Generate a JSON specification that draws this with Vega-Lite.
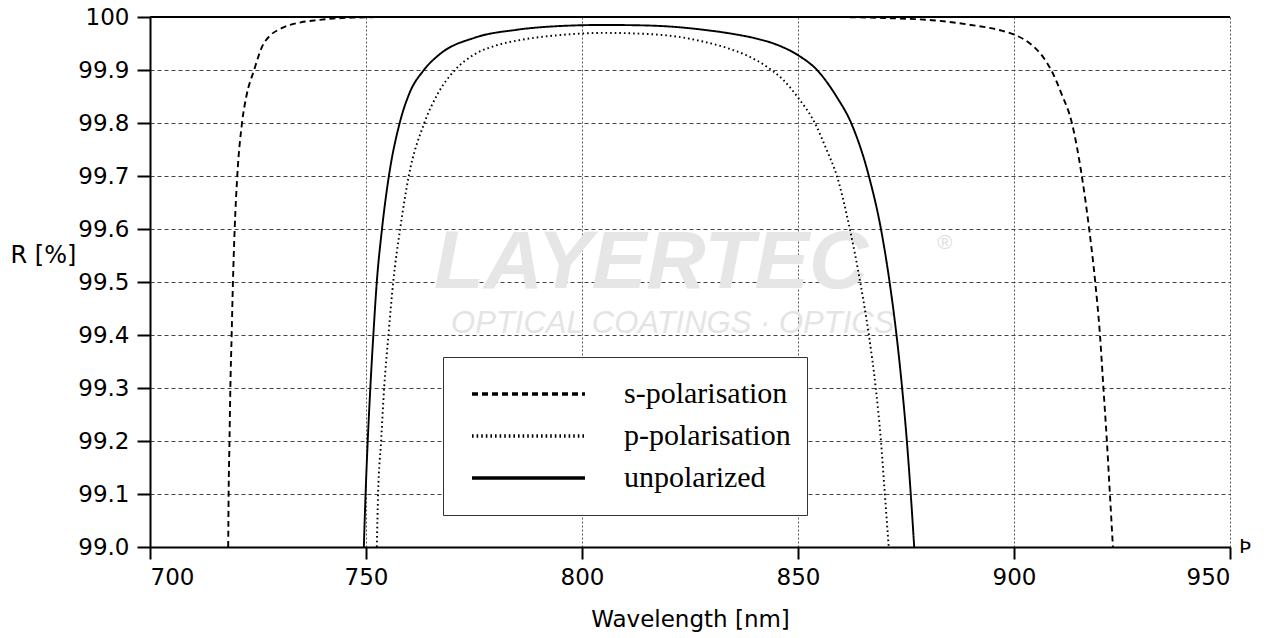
{
  "$schema": "https://vega.github.io/schema/vega-lite/v6.json",
  "width": 1080,
  "height": 530,
  "autosize": {"type": "none"},
  "padding": {"left": 150, "top": 17, "right": 39, "bottom": 91},
  "background": "white",
  "config": {"view": {"stroke": null}, "font": "DejaVu Sans"},
  "datasets": {
    "curves": [
      {"pol": "s-polarisation", "seg": "sL", "wl": 718.1, "R": 99.0},
      {"pol": "s-polarisation", "seg": "sL", "wl": 718.2, "R": 99.1},
      {"pol": "s-polarisation", "seg": "sL", "wl": 718.4, "R": 99.2},
      {"pol": "s-polarisation", "seg": "sL", "wl": 718.6, "R": 99.3},
      {"pol": "s-polarisation", "seg": "sL", "wl": 718.9, "R": 99.4},
      {"pol": "s-polarisation", "seg": "sL", "wl": 719.2, "R": 99.5},
      {"pol": "s-polarisation", "seg": "sL", "wl": 719.6, "R": 99.6},
      {"pol": "s-polarisation", "seg": "sL", "wl": 720.2, "R": 99.7},
      {"pol": "s-polarisation", "seg": "sL", "wl": 721.3, "R": 99.8},
      {"pol": "s-polarisation", "seg": "sL", "wl": 722.3, "R": 99.85},
      {"pol": "s-polarisation", "seg": "sL", "wl": 724.1, "R": 99.9},
      {"pol": "s-polarisation", "seg": "sL", "wl": 726.0, "R": 99.945},
      {"pol": "s-polarisation", "seg": "sL", "wl": 727.8, "R": 99.965},
      {"pol": "s-polarisation", "seg": "sL", "wl": 730.0, "R": 99.977},
      {"pol": "s-polarisation", "seg": "sL", "wl": 732.4, "R": 99.985},
      {"pol": "s-polarisation", "seg": "sL", "wl": 735.0, "R": 99.99},
      {"pol": "s-polarisation", "seg": "sL", "wl": 738.7, "R": 99.994},
      {"pol": "s-polarisation", "seg": "sL", "wl": 742.4, "R": 99.997},
      {"pol": "s-polarisation", "seg": "sL", "wl": 748.0, "R": 99.999},
      {"pol": "s-polarisation", "seg": "sL", "wl": 753.0, "R": 100.0},
      {"pol": "s-polarisation", "seg": "sR", "wl": 859.7, "R": 100.0},
      {"pol": "s-polarisation", "seg": "sR", "wl": 870.0, "R": 99.998},
      {"pol": "s-polarisation", "seg": "sR", "wl": 881.0, "R": 99.994},
      {"pol": "s-polarisation", "seg": "sR", "wl": 890.0, "R": 99.985},
      {"pol": "s-polarisation", "seg": "sR", "wl": 896.8, "R": 99.975},
      {"pol": "s-polarisation", "seg": "sR", "wl": 900.0, "R": 99.967},
      {"pol": "s-polarisation", "seg": "sR", "wl": 903.7, "R": 99.95},
      {"pol": "s-polarisation", "seg": "sR", "wl": 906.5, "R": 99.927},
      {"pol": "s-polarisation", "seg": "sR", "wl": 908.6, "R": 99.9},
      {"pol": "s-polarisation", "seg": "sR", "wl": 911.0, "R": 99.855},
      {"pol": "s-polarisation", "seg": "sR", "wl": 913.4, "R": 99.8},
      {"pol": "s-polarisation", "seg": "sR", "wl": 915.7, "R": 99.7},
      {"pol": "s-polarisation", "seg": "sR", "wl": 917.4, "R": 99.6},
      {"pol": "s-polarisation", "seg": "sR", "wl": 918.8, "R": 99.5},
      {"pol": "s-polarisation", "seg": "sR", "wl": 919.9, "R": 99.4},
      {"pol": "s-polarisation", "seg": "sR", "wl": 920.7, "R": 99.3},
      {"pol": "s-polarisation", "seg": "sR", "wl": 921.5, "R": 99.2},
      {"pol": "s-polarisation", "seg": "sR", "wl": 922.2, "R": 99.1},
      {"pol": "s-polarisation", "seg": "sR", "wl": 922.9, "R": 99.0},
      {"pol": "p-polarisation", "seg": "p", "wl": 752.5, "R": 99.0},
      {"pol": "p-polarisation", "seg": "p", "wl": 752.8, "R": 99.1},
      {"pol": "p-polarisation", "seg": "p", "wl": 753.5, "R": 99.2},
      {"pol": "p-polarisation", "seg": "p", "wl": 754.2, "R": 99.3},
      {"pol": "p-polarisation", "seg": "p", "wl": 755.2, "R": 99.4},
      {"pol": "p-polarisation", "seg": "p", "wl": 756.3, "R": 99.5},
      {"pol": "p-polarisation", "seg": "p", "wl": 757.9, "R": 99.6},
      {"pol": "p-polarisation", "seg": "p", "wl": 759.9, "R": 99.7},
      {"pol": "p-polarisation", "seg": "p", "wl": 763.5, "R": 99.8},
      {"pol": "p-polarisation", "seg": "p", "wl": 766.6, "R": 99.855},
      {"pol": "p-polarisation", "seg": "p", "wl": 770.6, "R": 99.9},
      {"pol": "p-polarisation", "seg": "p", "wl": 775.2, "R": 99.93},
      {"pol": "p-polarisation", "seg": "p", "wl": 780.0, "R": 99.946},
      {"pol": "p-polarisation", "seg": "p", "wl": 786.0, "R": 99.957},
      {"pol": "p-polarisation", "seg": "p", "wl": 795.0, "R": 99.966},
      {"pol": "p-polarisation", "seg": "p", "wl": 805.0, "R": 99.97},
      {"pol": "p-polarisation", "seg": "p", "wl": 815.0, "R": 99.968},
      {"pol": "p-polarisation", "seg": "p", "wl": 822.0, "R": 99.963},
      {"pol": "p-polarisation", "seg": "p", "wl": 827.3, "R": 99.955},
      {"pol": "p-polarisation", "seg": "p", "wl": 833.0, "R": 99.943},
      {"pol": "p-polarisation", "seg": "p", "wl": 838.0, "R": 99.928},
      {"pol": "p-polarisation", "seg": "p", "wl": 843.0, "R": 99.905},
      {"pol": "p-polarisation", "seg": "p", "wl": 846.5, "R": 99.882},
      {"pol": "p-polarisation", "seg": "p", "wl": 850.0, "R": 99.848},
      {"pol": "p-polarisation", "seg": "p", "wl": 853.9, "R": 99.8},
      {"pol": "p-polarisation", "seg": "p", "wl": 856.6, "R": 99.75},
      {"pol": "p-polarisation", "seg": "p", "wl": 859.0, "R": 99.7},
      {"pol": "p-polarisation", "seg": "p", "wl": 862.0, "R": 99.6},
      {"pol": "p-polarisation", "seg": "p", "wl": 864.4, "R": 99.5},
      {"pol": "p-polarisation", "seg": "p", "wl": 866.4, "R": 99.4},
      {"pol": "p-polarisation", "seg": "p", "wl": 868.0, "R": 99.3},
      {"pol": "p-polarisation", "seg": "p", "wl": 869.2, "R": 99.2},
      {"pol": "p-polarisation", "seg": "p", "wl": 870.1, "R": 99.1},
      {"pol": "p-polarisation", "seg": "p", "wl": 871.0, "R": 99.0},
      {"pol": "unpolarized", "seg": "u", "wl": 749.5, "R": 99.0},
      {"pol": "unpolarized", "seg": "u", "wl": 749.9, "R": 99.1},
      {"pol": "unpolarized", "seg": "u", "wl": 750.4, "R": 99.2},
      {"pol": "unpolarized", "seg": "u", "wl": 751.0, "R": 99.3},
      {"pol": "unpolarized", "seg": "u", "wl": 751.7, "R": 99.4},
      {"pol": "unpolarized", "seg": "u", "wl": 752.5, "R": 99.5},
      {"pol": "unpolarized", "seg": "u", "wl": 753.7, "R": 99.6},
      {"pol": "unpolarized", "seg": "u", "wl": 755.3, "R": 99.7},
      {"pol": "unpolarized", "seg": "u", "wl": 757.8, "R": 99.8},
      {"pol": "unpolarized", "seg": "u", "wl": 760.0, "R": 99.855},
      {"pol": "unpolarized", "seg": "u", "wl": 763.4, "R": 99.9},
      {"pol": "unpolarized", "seg": "u", "wl": 767.1, "R": 99.93},
      {"pol": "unpolarized", "seg": "u", "wl": 775.2, "R": 99.961},
      {"pol": "unpolarized", "seg": "u", "wl": 785.0, "R": 99.976},
      {"pol": "unpolarized", "seg": "u", "wl": 795.0, "R": 99.983},
      {"pol": "unpolarized", "seg": "u", "wl": 805.0, "R": 99.985},
      {"pol": "unpolarized", "seg": "u", "wl": 815.0, "R": 99.984},
      {"pol": "unpolarized", "seg": "u", "wl": 822.0, "R": 99.981},
      {"pol": "unpolarized", "seg": "u", "wl": 828.0, "R": 99.976},
      {"pol": "unpolarized", "seg": "u", "wl": 835.0, "R": 99.968},
      {"pol": "unpolarized", "seg": "u", "wl": 840.0, "R": 99.96},
      {"pol": "unpolarized", "seg": "u", "wl": 845.0, "R": 99.948},
      {"pol": "unpolarized", "seg": "u", "wl": 850.0, "R": 99.928},
      {"pol": "unpolarized", "seg": "u", "wl": 854.4, "R": 99.9},
      {"pol": "unpolarized", "seg": "u", "wl": 858.9, "R": 99.85},
      {"pol": "unpolarized", "seg": "u", "wl": 862.3, "R": 99.8},
      {"pol": "unpolarized", "seg": "u", "wl": 866.4, "R": 99.7},
      {"pol": "unpolarized", "seg": "u", "wl": 869.2, "R": 99.6},
      {"pol": "unpolarized", "seg": "u", "wl": 871.2, "R": 99.5},
      {"pol": "unpolarized", "seg": "u", "wl": 872.8, "R": 99.4},
      {"pol": "unpolarized", "seg": "u", "wl": 874.1, "R": 99.3},
      {"pol": "unpolarized", "seg": "u", "wl": 875.2, "R": 99.2},
      {"pol": "unpolarized", "seg": "u", "wl": 876.1, "R": 99.1},
      {"pol": "unpolarized", "seg": "u", "wl": 876.9, "R": 99.0}
    ]
  },
  "layer": [
    {
      "data": {"values": [{}]},
      "mark": {"type": "text", "font": "Liberation Sans", "fontWeight": "bold", "fontStyle": "italic", "fontSize": 82, "color": "#e6e6e6", "align": "center", "baseline": "middle"},
      "encoding": {
        "x": {"datum": 816, "type": "quantitative"},
        "y": {"datum": 99.535, "type": "quantitative"},
        "text": {"value": "LAYERTEC"}
      }
    },
    {
      "data": {"values": [{}]},
      "mark": {"type": "text", "font": "Liberation Sans", "fontStyle": "italic", "fontSize": 31, "color": "#e4e4e4", "align": "center", "baseline": "middle"},
      "encoding": {
        "x": {"datum": 821, "type": "quantitative"},
        "y": {"datum": 99.42, "type": "quantitative"},
        "text": {"value": "OPTICAL COATINGS · OPTICS"}
      }
    },
    {
      "data": {"values": [{}]},
      "mark": {"type": "text", "font": "Liberation Sans", "fontSize": 20, "color": "#dddddd", "align": "center", "baseline": "middle"},
      "encoding": {
        "x": {"datum": 884, "type": "quantitative"},
        "y": {"datum": 99.574, "type": "quantitative"},
        "text": {"value": "®"}
      }
    },
    {
      "data": {"values": [{}]},
      "mark": {"type": "text", "font": "DejaVu Sans", "fontSize": 20, "color": "black", "align": "center", "baseline": "middle", "clip": false},
      "encoding": {
        "x": {"datum": 953.5, "type": "quantitative"},
        "y": {"datum": 99.0, "type": "quantitative"},
        "text": {"value": "Þ"}
      }
    },
    {
      "data": {"values": [{}]},
      "mark": {"type": "rule", "color": "black", "strokeWidth": 2},
      "encoding": {"y": {"datum": 100, "type": "quantitative"}}
    },
    {
      "data": {"name": "curves"},
      "mark": {"type": "line", "color": "black", "strokeWidth": 1.9, "interpolate": "monotone", "clip": true},
      "encoding": {
        "x": {
          "field": "wl", "type": "quantitative",
          "scale": {"domain": [700, 950], "nice": false, "zero": false},
          "axis": {
            "values": [700, 750, 800, 850, 900, 950],
            "title": "Wavelength [nm]",
            "titleFont": "DejaVu Sans", "titleFontSize": 23, "titleFontWeight": "normal", "titleColor": "black", "titlePadding": 19,
            "labelFont": "DejaVu Sans", "labelFontSize": 23, "labelColor": "black", "labelPadding": 7,
            "tickSize": 12, "tickWidth": 2, "tickColor": "black",
            "domainColor": "black", "domainWidth": 2,
            "grid": true, "gridDash": [2, 2], "gridColor": "#555555", "gridWidth": 1
          }
        },
        "y": {
          "field": "R", "type": "quantitative",
          "scale": {"domain": [99, 100], "nice": false, "zero": false},
          "axis": {
            "values": [99.0, 99.1, 99.2, 99.3, 99.4, 99.5, 99.6, 99.7, 99.8, 99.9, 100],
            "labelExpr": "datum.value >= 99.99 ? '100' : format(datum.value, '.1f')",
            "title": "R [%]", "titleAngle": 0, "titleAlign": "left", "titleBaseline": "middle",
            "titleX": -140, "titleY": 238,
            "titleFont": "DejaVu Sans", "titleFontSize": 24, "titleFontWeight": "normal", "titleColor": "black",
            "labelFont": "DejaVu Sans", "labelFontSize": 23, "labelColor": "black", "labelPadding": 8,
            "tickSize": 13, "tickWidth": 2, "tickColor": "black",
            "domainColor": "black", "domainWidth": 2,
            "grid": true, "gridDash": [4, 3], "gridColor": "#444444", "gridWidth": 1
          }
        },
        "detail": {"field": "seg", "type": "nominal"},
        "order": {"field": "wl", "type": "quantitative"},
        "strokeDash": {
          "field": "pol", "type": "nominal",
          "scale": {"domain": ["s-polarisation", "p-polarisation", "unpolarized"], "range": [[6, 4], [1.6, 3], [1, 0]]},
          "legend": {
            "title": null, "orient": "none", "legendX": 293, "legendY": 340,
            "fillColor": "white", "strokeColor": "#333333", "padding": 16,
            "symbolType": "stroke", "symbolSize": 12769, "symbolStrokeWidth": 3.5, "symbolStrokeColor": "black",
            "symbolOffset": 11,
            "labelFont": "Liberation Serif", "labelFontSize": 30, "labelColor": "black", "labelOffset": 37, "labelLimit": 400,
            "labelExpr": "datum.label + '   '",
            "clipHeight": 42, "rowPadding": 0,
            "encode": {"symbols": {"enter": {"strokeWidth": {"value": 3.5}}, "update": {"strokeWidth": {"value": 3.5}, "stroke": {"value": "black"}}}}
          }
        }
      }
    }
  ]
}
